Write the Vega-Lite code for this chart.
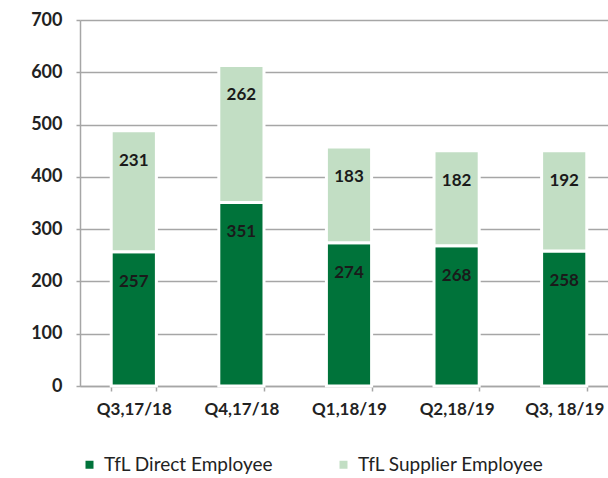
{
  "$schema": "https://vega.github.io/schema/vega-lite/v6.json",
  "width": 538,
  "height": 366,
  "autosize": "none",
  "padding": {"left": 80, "top": 20, "right": 0, "bottom": 92},
  "config": {
    "font": "Lato",
    "view": {"stroke": null},
    "axis": {"labelFont": "Lato", "labelFontWeight": "bold", "labelColor": "#222222", "labelFontSize": 18, "domainColor": "#a6a6a6", "tickColor": "#a6a6a6", "domainWidth": 1.5, "tickWidth": 1.5, "gridColor": "#a6a6a6", "gridWidth": 1.5}
  },
  "data": {
    "values": [
      {"quarter": "Q3,17/18", "type": "TfL Direct Employee", "value": 257},
      {"quarter": "Q3,17/18", "type": "TfL Supplier Employee", "value": 231},
      {"quarter": "Q4,17/18", "type": "TfL Direct Employee", "value": 351},
      {"quarter": "Q4,17/18", "type": "TfL Supplier Employee", "value": 262},
      {"quarter": "Q1,18/19", "type": "TfL Direct Employee", "value": 274},
      {"quarter": "Q1,18/19", "type": "TfL Supplier Employee", "value": 183},
      {"quarter": "Q2,18/19", "type": "TfL Direct Employee", "value": 268},
      {"quarter": "Q2,18/19", "type": "TfL Supplier Employee", "value": 182},
      {"quarter": "Q3, 18/19", "type": "TfL Direct Employee", "value": 258},
      {"quarter": "Q3, 18/19", "type": "TfL Supplier Employee", "value": 192}
    ]
  },
  "transform": [
    {"calculate": "datum.type === 'TfL Direct Employee' ? 0 : 1", "as": "ord"},
    {"stack": "value", "groupby": ["quarter"], "sort": [{"field": "ord", "order": "ascending"}], "as": ["v0", "v1"]}
  ],
  "encoding": {
    "x": {
      "field": "quarter", "type": "nominal", "sort": null,
      "scale": {"paddingInner": 0.58, "paddingOuter": 0.29},
      "axis": {"title": null, "labelAngle": 0, "tickBand": "extent", "tickSize": 5, "labelPadding": 10, "grid": false, "labelFontSize": 17}
    }
  },
  "layer": [
    {
      "mark": {"type": "bar", "stroke": "white", "strokeWidth": 3},
      "encoding": {
        "y": {"field": "v0", "type": "quantitative", "scale": {"domain": [0, 700]},
          "axis": {"title": null, "values": [0,100,200,300,400,500,600,700], "tickSize": 4, "labelPadding": 14, "grid": true}},
        "y2": {"field": "v1"},
        "color": {
          "field": "type", "type": "nominal",
          "scale": {"domain": ["TfL Direct Employee", "TfL Supplier Employee"], "range": ["#00733a", "#c2dec4"]},
          "legend": {"title": null, "orient": "none", "direction": "horizontal", "legendX": 0, "legendY": 435, "symbolType": "square", "symbolSize": 64, "symbolStrokeWidth": 0, "labelFont": "Lato", "labelFontSize": 19, "labelLimit": 400, "labelColor": "#222222", "columnPadding": 60, "labelOffset": 5}
        }
      }
    },
    {
      "mark": {"type": "text", "font": "Lato", "fontWeight": "bold", "fontSize": 17, "color": "#1a1a1a", "dy": 30},
      "encoding": {
        "y": {"field": "v1", "type": "quantitative"},
        "text": {"field": "value", "type": "quantitative"}
      }
    }
  ]
}
